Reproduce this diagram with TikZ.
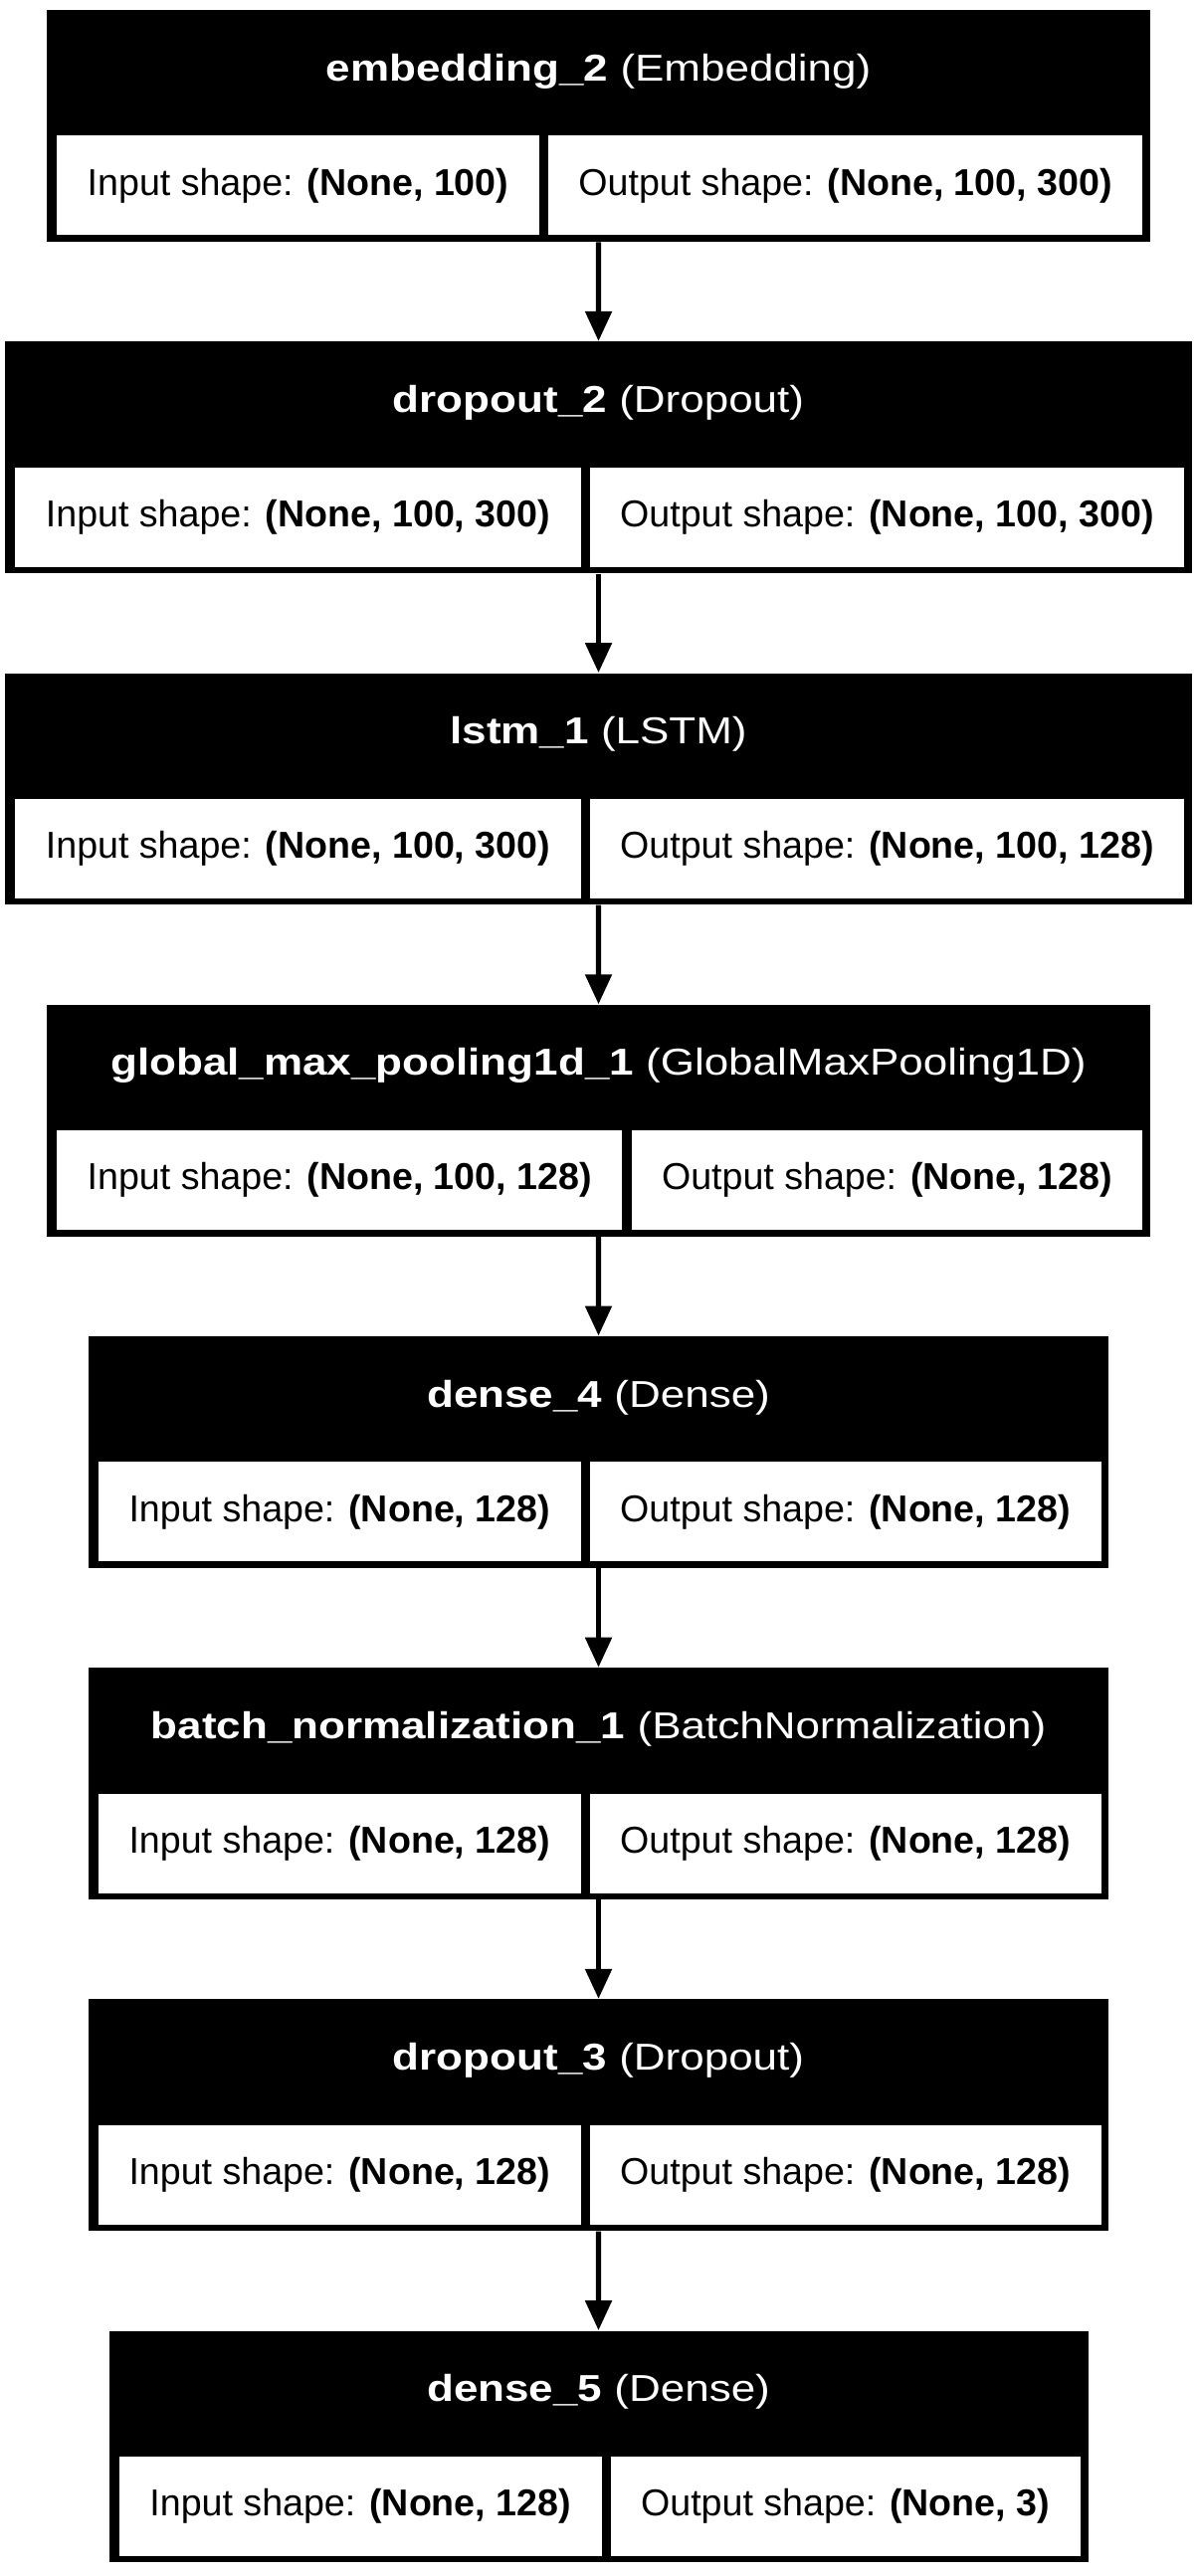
\documentclass[tikz,border=0pt]{standalone}
\usepackage{fontspec}
\setmainfont{Liberation Sans}
\newfontfamily\headfont{Liberation Sans}[FakeStretch=1.17]
\usetikzlibrary{positioning,arrows.meta,fit,backgrounds,calc}

\begin{document}
\begin{tikzpicture}[x=0.5pt, y=0.5pt,
    cell/.style={rectangle, fill=white, inner xsep=15.25pt, inner ysep=0pt,
                 minimum height=50pt, font=\fontsize{18.8}{22}\selectfont},
    layerbox/.style={rectangle, fill=black, inner sep=0pt},
    head/.style={text=white, inner sep=0pt, font=\headfont\fontsize{18.8}{22}\selectfont},
    flow/.style={line width=2.6pt, -{Triangle[length=15pt, width=13pt]}},
  ]
  \useasboundingbox (0,0) rectangle (1203,-2589);

  % one layer per row: top, split position, name, type, shapes
  \foreach \i/\ty/\d/\nm/\ltype/\ins/\outs in {
      1/11.5/542.2/embedding\_2/Embedding/{(None, 100)}/{(None, 100, 300)},
      2/344.7/584.0/dropout\_2/Dropout/{(None, 100, 300)}/{(None, 100, 300)},
      3/677.9/584.0/lstm\_1/LSTM/{(None, 100, 300)}/{(None, 100, 128)},
      4/1011.1/625.8/global\_max\_pooling1d\_1/GlobalMaxPooling1D/{(None, 100, 128)}/{(None, 128)},
      5/1344.3/584.0/dense\_4/Dense/{(None, 128)}/{(None, 128)},
      6/1677.5/584.0/batch\_normalization\_1/BatchNormalization/{(None, 128)}/{(None, 128)},
      7/2010.7/584.0/dropout\_3/Dropout/{(None, 128)}/{(None, 128)},
      8/2343.9/604.9/dense\_5/Dense/{(None, 128)}/{(None, 3)}} {
    \node[cell, anchor=east] (in\i) at (\d,-\ty-175) {Input shape: \textbf{\ins}};
    \node[cell, right=4.15pt of in\i] (out\i) {Output shape: \textbf{\outs}};
    \begin{scope}[on background layer]
      \node[layerbox, fit={($(in\i.south west)+(-10,-6)$) ($(out\i.north east)+(7.5,126)$)}] (box\i) {};
    \end{scope}
    \node[head, anchor=base] (hd\i) at ($(box\i.north)+(0,-71.5)$) {\textbf{\nm} (\ltype)};
  }

  % connectors
  \foreach \i [evaluate=\i as \j using int(\i+1)] in {1,...,7}
    \draw[flow] (box\i.south) -- (box\j.north);
\end{tikzpicture}
\end{document}
